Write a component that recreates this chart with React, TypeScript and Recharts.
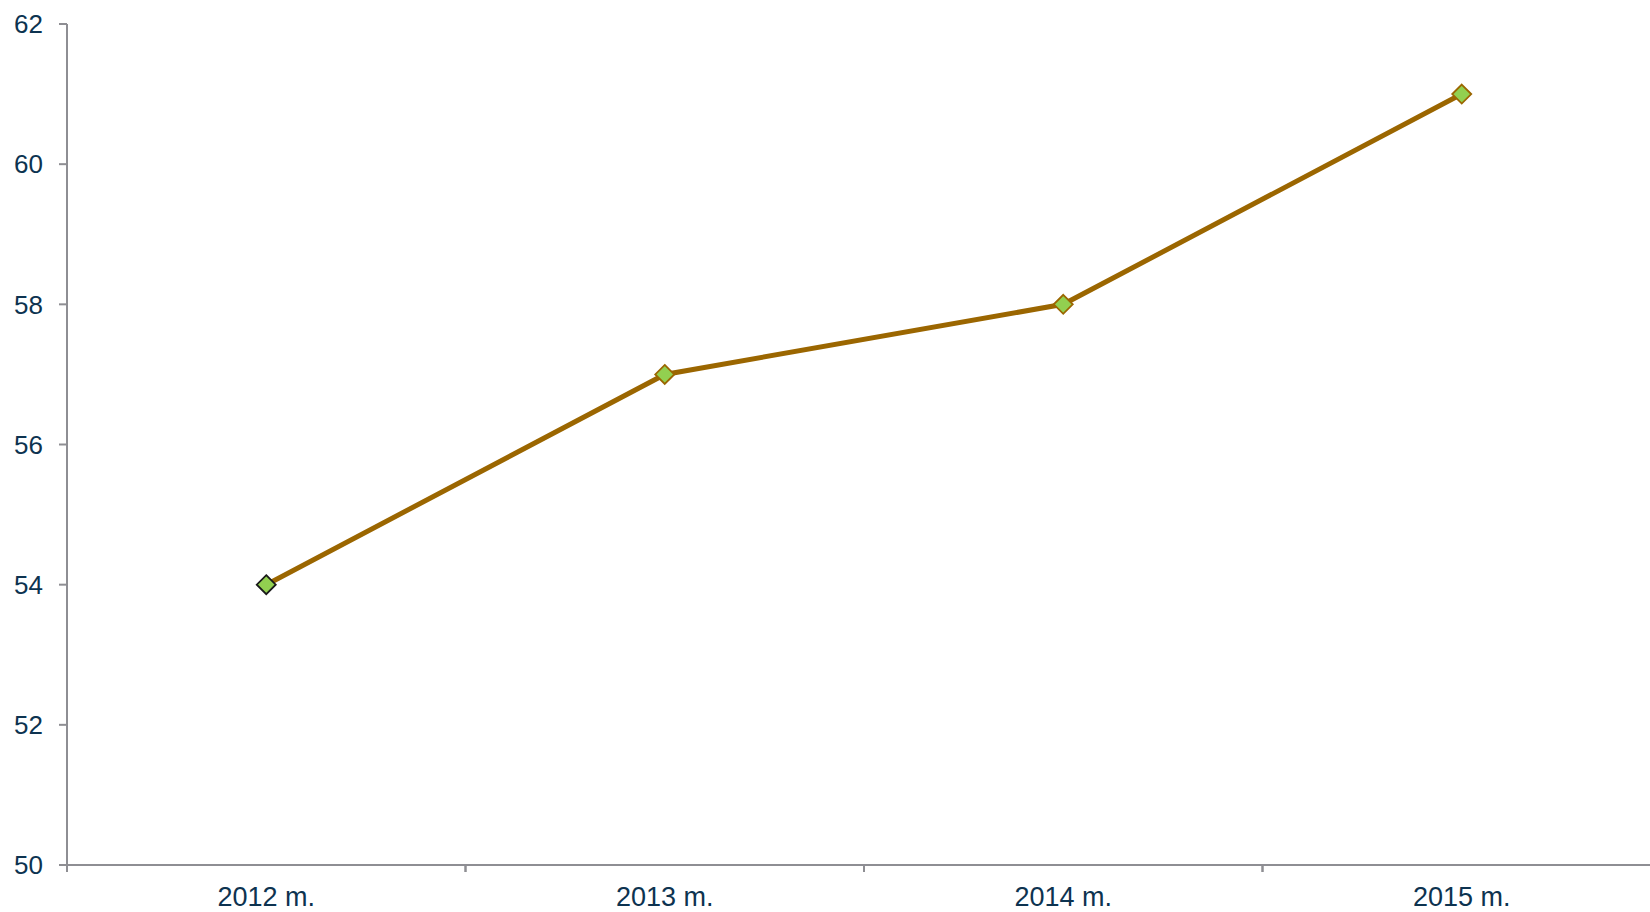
import React from 'react';
import { LineChart, Line, XAxis, YAxis } from 'recharts';

// Reikšmės pagal metus
const years = ['2012 m.', '2013 m.', '2014 m.', '2015 m.'];
const values = [54, 57, 58, 61];
const yTicks = [50, 52, 54, 56, 58, 60, 62];

const LINE_COLOR = '#9b6600';
const MARKER_FILL = '#92d050';
const AXIS_COLOR = '#8e8e93';
const TEXT_COLOR = '#0d3350';
const FONT = '"Liberation Sans", Arial, sans-serif';

const chartData = years.map((year, i) => ({ year, value: values[i] }));

const Diamond = (props: any) => {
  const { cx, cy, index } = props;
  if (cx == null || cy == null) return null;
  const r = 9.5;
  const stroke = index === 0 ? '#1a1a1a' : LINE_COLOR;
  return (
    <path
      key={`d-${index}`}
      d={`M${cx},${cy - r} L${cx + r},${cy} L${cx},${cy + r} L${cx - r},${cy} Z`}
      fill={MARKER_FILL}
      stroke={stroke}
      strokeWidth={1.8}
    />
  );
};

// tikas ties kategorijų riba, etiketė per vidurį
const XTick = (props: any) => {
  const { x, y, payload } = props;
  const half = payload?.offset ?? 199;
  return (
    <g>
      <line x1={x - half} x2={x - half} y1={y} y2={y + 7} stroke={AXIS_COLOR} strokeWidth={2} />
      <line x1={x + half} x2={x + half} y1={y} y2={y + 7} stroke={AXIS_COLOR} strokeWidth={2} />
      <text x={x} y={y + 41} textAnchor="middle" fill={TEXT_COLOR} fontSize={27} fontFamily={FONT}>
        {payload.value}
      </text>
    </g>
  );
};

export default function App() {
  return (
    <div
      style={{
        position: 'absolute',
        left: 0,
        top: 0,
        width: 1650,
        height: 912,
        overflow: 'hidden',
        background: '#fff',
      }}
    >
      <LineChart
        width={1662}
        height={912}
        data={chartData}
        margin={{ top: 24, right: 1, left: 0, bottom: 0 }}
      >
        <XAxis
          dataKey="year"
          scale="band"
          height={47}
          axisLine={{ stroke: AXIS_COLOR, strokeWidth: 2 }}
          tickLine={false}
          tickSize={0}
          tickMargin={0}
          tick={<XTick />}
          interval={0}
        />
        <YAxis
          width={67}
          domain={[50, 62]}
          ticks={yTicks}
          allowDataOverflow
          axisLine={{ stroke: AXIS_COLOR, strokeWidth: 2 }}
          tickLine={{ stroke: AXIS_COLOR, strokeWidth: 2 }}
          tickSize={8}
          tickMargin={16}
          tick={{ fill: TEXT_COLOR, fontSize: 26, fontFamily: FONT }}
        />
        <Line
          type="linear"
          dataKey="value"
          stroke={LINE_COLOR}
          strokeWidth={5}
          dot={Diamond}
          activeDot={false}
          isAnimationActive={false}
        />
      </LineChart>
    </div>
  );
}
